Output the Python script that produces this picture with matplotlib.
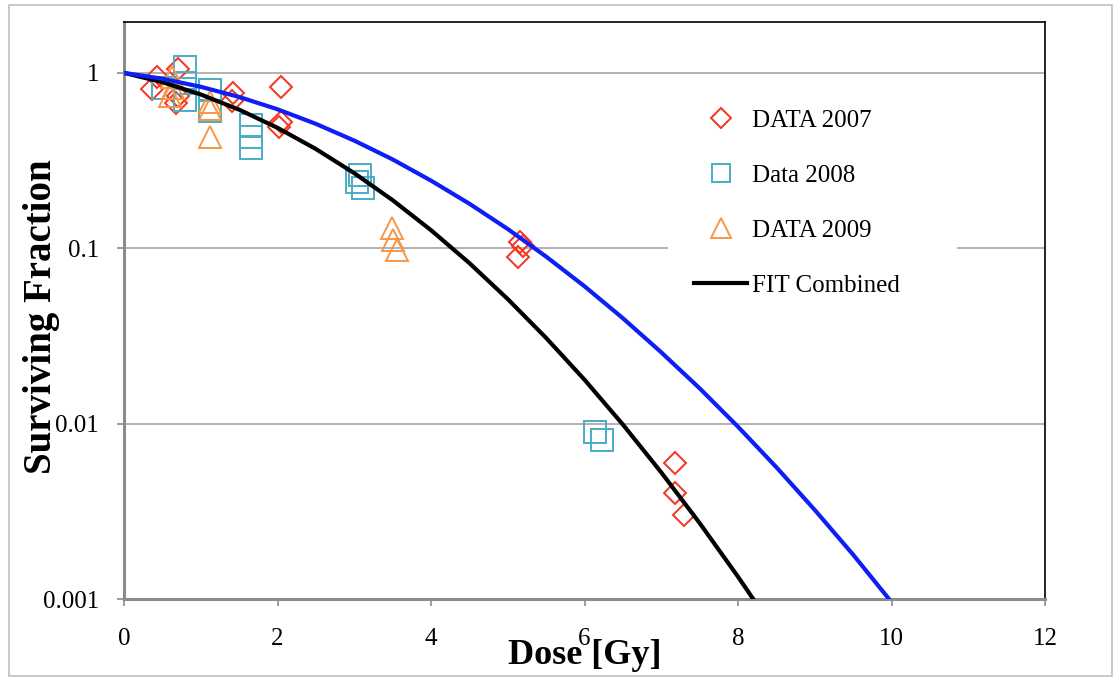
import numpy as np
import matplotlib.pyplot as plt
from matplotlib.patches import Rectangle
from matplotlib.ticker import FixedLocator, NullLocator

# survival data per campaign (dose in Gy, surviving fraction)
dose_2007 = [0.43, 0.36, 0.70, 0.68, 0.70, 1.42, 1.41, 2.05, 2.05, 2.02, 5.16, 5.20, 5.13, 7.18, 7.18, 7.30]
sf_2007 = [0.95, 0.81, 1.05, 0.67, 0.74, 0.77, 0.69, 0.83, 0.525, 0.49, 0.109, 0.103, 0.089, 0.0060, 0.0040, 0.0030]

dose_2008 = [0.51, 0.79, 0.79, 0.79, 1.12, 1.12, 1.65, 1.65, 1.65, 3.07, 3.04, 3.11, 6.14, 6.23]
sf_2008 = [0.82, 1.08, 0.88, 0.70, 0.80, 0.61, 0.505, 0.43, 0.373, 0.262, 0.24, 0.221, 0.0090, 0.0081]

dose_2009 = [0.62, 0.64, 0.60, 1.12, 1.12, 1.12, 3.49, 3.50, 3.56]
sf_2009 = [0.95, 0.82, 0.74, 0.68, 0.62, 0.43, 0.130, 0.111, 0.098]

# fitted curves, sampled every 0.5 Gy
dose_fit = [0, 0.5, 1, 1.5, 2, 2.5, 3, 3.5, 4, 4.5, 5, 5.5, 6, 6.5, 7, 7.5, 8, 8.5, 9, 9.5, 10]
sf_fit_combined = [1, 0.885, 0.753, 0.617, 0.486, 0.368, 0.268, 0.188, 0.1268, 0.0823, 0.0513,
                   0.0308, 0.0178, 0.00988, 0.00527, 0.00271, 0.00134, 0.00064, 0.00029, 0.00012, 0.00005]
sf_fit_blue = [1, 0.926, 0.833, 0.729, 0.620, 0.512, 0.411, 0.321, 0.243, 0.1795, 0.1287,
               0.0896, 0.0607, 0.0399, 0.0255, 0.0159, 0.0096, 0.00564, 0.00322, 0.00179, 0.00096]

x_ticks = [0, 2, 4, 6, 8, 10, 12]
y_ticks = [0.001, 0.01, 0.1, 1]
y_ticklabels = ['0.001', '0.01', '0.1', '1']

plt.rcParams['font.family'] = ['Liberation Serif', 'DejaVu Serif']

fig = plt.figure(figsize=(11.13, 6.77), dpi=100)
ax = fig.add_axes([124 / 1113, 78 / 677, 921 / 1113, 577 / 677])

# outer chart border
fig.patches.append(Rectangle((9 / 1113, 1 / 677), 1103 / 1113, 671 / 677, transform=fig.transFigure,
                             fill=False, ec='#C0C0C0', lw=1.2))

ax.plot(dose_2007, sf_2007, ls='none', marker='D', ms=11.5, mfc='none', mec='#F5331E', mew=1.4,
        label='DATA 2007', zorder=3)
ax.plot(dose_2008, sf_2008, ls='none', marker='s', ms=16, mfc='none', mec='#4BACC6', mew=1.4,
        label='Data 2008', zorder=3)
ax.plot(dose_2009, sf_2009, ls='none', marker='^', ms=16.5, mfc='none', mec='#F79646', mew=1.4,
        label='DATA 2009', zorder=3)
ax.plot(dose_fit, sf_fit_combined, color='black', lw=3, label='FIT Combined', zorder=4)
ax.plot(dose_fit, sf_fit_blue, color='#0D1FF5', lw=3, zorder=4)

ax.set_yscale('log')
ax.set_xlim(0, 12)
ax.set_ylim(0.001, 1.95)
ax.xaxis.set_major_locator(FixedLocator(x_ticks))
ax.yaxis.set_major_locator(FixedLocator(y_ticks))
ax.yaxis.set_minor_locator(NullLocator())
ax.set_yticklabels(y_ticklabels)
ax.yaxis.grid(True, color='#A6A6A6', lw=1.2)
ax.set_axisbelow(True)

for side in ['left', 'bottom']:
    ax.spines[side].set_color('#8C8C8C')
    ax.spines[side].set_linewidth(2.2)
for side in ['top', 'right']:
    ax.spines[side].set_color('black')
    ax.spines[side].set_linewidth(1.2)

ax.tick_params(axis='both', direction='out', length=5, width=1.2, color='#8C8C8C', labelsize=18)
ax.tick_params(axis='y', pad=13)
ax.tick_params(axis='x', pad=16)

ax.set_xlabel('Dose [Gy]', fontsize=26, fontweight='bold')
ax.set_ylabel('Surviving Fraction', fontsize=28, fontweight='bold')
ax.xaxis.set_label_coords(0.5, -0.07)
ax.yaxis.set_label_coords(-0.07, 0.49)

# white box behind the legend
ax.add_patch(Rectangle((0.591, 0.5), 0.313, 0.4, transform=ax.transAxes, fc='white', ec='none', zorder=2))
leg = ax.legend(loc='upper left', bbox_to_anchor=(0.605, 0.87), frameon=False, fontsize=18,
                borderpad=0, handlelength=2.15, handletextpad=0.2, labelspacing=1.3, markerscale=0.85)
leg.set_zorder(5)

fig.savefig('out.png', dpi=100)
